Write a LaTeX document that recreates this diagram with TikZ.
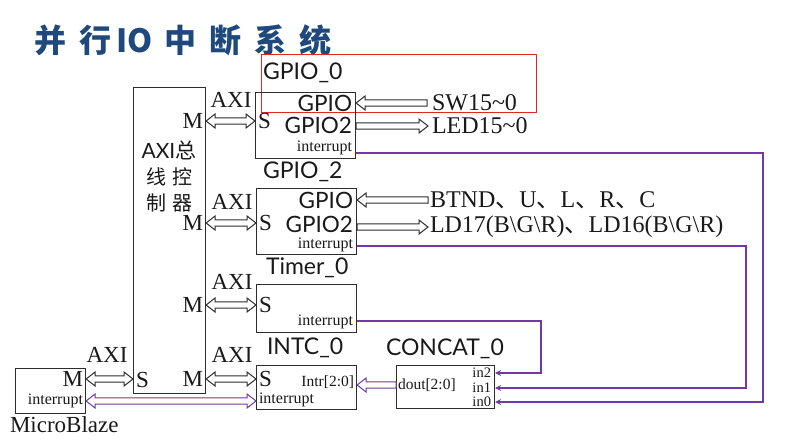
\documentclass[tikz,border=0pt]{standalone}
\usepackage{fontspec}
\setmainfont{Liberation Serif}
\setsansfont{Lato}
\newfontfamily\cjk{Noto Sans CJK SC}
\usetikzlibrary{arrows.meta,calc}
\definecolor{pur}{RGB}{112,56,168}
\definecolor{ttl}{RGB}{31,73,125}
\definecolor{ln}{RGB}{45,45,45}
\definecolor{hl}{RGB}{220,40,40}
\newcommand\fz[1]{\fontsize{#1}{#1}\selectfont}
% hollow bus arrows (horizontal): #1 style, #2 left point, #3 right point
\newcommand\busBoth[3]{\draw[#1] let \p1=#2, \p2=#3 in
  (\x1,\y1) -- ({\x1+9pt},{\y1+7pt}) -- ({\x1+9pt},{\y1+3.2pt}) -- ({\x2-9pt},{\y1+3.2pt})
  -- ({\x2-9pt},{\y1+7pt}) -- (\x2,\y1) -- ({\x2-9pt},{\y1-7pt}) -- ({\x2-9pt},{\y1-3.2pt})
  -- ({\x1+9pt},{\y1-3.2pt}) -- ({\x1+9pt},{\y1-7pt}) -- cycle;}
\newcommand\busRight[3]{\draw[#1] let \p1=#2, \p2=#3 in
  (\x1,{\y1+3.2pt}) -- ({\x2-9pt},{\y1+3.2pt}) -- ({\x2-9pt},{\y1+7pt}) -- (\x2,\y1)
  -- ({\x2-9pt},{\y1-7pt}) -- ({\x2-9pt},{\y1-3.2pt}) -- (\x1,{\y1-3.2pt}) -- cycle;}
\newcommand\busLeft[3]{\draw[#1] let \p1=#2, \p2=#3 in
  (\x2,{\y1+3.2pt}) -- ({\x1+9pt},{\y1+3.2pt}) -- ({\x1+9pt},{\y1+7pt}) -- (\x1,\y1)
  -- ({\x1+9pt},{\y1-7pt}) -- ({\x1+9pt},{\y1-3.2pt}) -- (\x2,{\y1-3.2pt}) -- cycle;}
\tikzset{
  box/.style={draw=ln, line width=1.1pt, inner sep=0pt, anchor=north west},
  t/.style={inner sep=0pt, outer sep=0pt, text=black!90},
  ser/.style={t, font=\fz{23}},
  ext/.style={t, font=\fz{24}},
  sml/.style={t, font=\fz{16}},
  prt/.style={t, font=\fz{15.5}},
  pin/.style={t, font=\fz{14.5}},
  lab/.style={t, font=\sffamily\fz{23}},
  gp/.style={t, font=\sffamily\fz{22.5}},
  bus/.style={draw=ln, line width=1pt, line join=miter, fill=white},
  pbus/.style={draw=pur, line width=1pt, line join=miter, fill=white},
  irq/.style={draw=pur, line width=1.4pt, -{Stealth[length=6pt,width=6pt]}},
}
\begin{document}
\begin{tikzpicture}[x=1pt,y=-1pt]
\useasboundingbox (0,0) rectangle (808,439);
% title
\node[anchor=west, inner sep=0pt, text=ttl, font=\cjk\bfseries\fz{32}] (title) at (34,40)
  {并\hspace{13pt}行\hspace{5pt}IO\hspace{12pt}中\hspace{13pt}断\hspace{13pt}系\hspace{13pt}统};
% highlight
\node[draw=hl, line width=1.4pt, minimum width=275, minimum height=58, inner sep=0pt, anchor=north west] (hlbox) at (261,54) {};
% AXI controller
\node[box, minimum width=72, minimum height=306] (axi) at (133,87) {};
\node[t, font=\fz{21}] (axiA) at (169,150) {{\sffamily AXI}{\cjk 总}};
\node[t, font=\cjk\fz{20}] (axiB) at (169,177) {线\hspace{6pt}控};
\node[t, font=\cjk\fz{20}] (axiC) at (169,203) {制\hspace{6pt}器};
\node[ser, anchor=east] (m0) at (203,121) {M};
\node[ser, anchor=east] (m1) at (203,223) {M};
\node[ser, anchor=east] (m2) at (203,305) {M};
\node[ser, anchor=east] (m3) at (203,379) {M};
\node[ser, anchor=west] (sL) at (136,380) {S};
% AXI labels
\node[ser] (ax0) at (231,100) {AXI};
\node[ser] (ax1) at (232,202) {AXI};
\node[ser] (ax2) at (232,282) {AXI};
\node[ser] (ax3) at (232,355) {AXI};
\node[ser] (ax4) at (107,355) {AXI};
% GPIO_0
\node[box, minimum width=100, minimum height=66] (g0) at (255,92) {};
\node[lab, anchor=west] (g0n) at (263,73) {GPIO\_0};
\node[gp, anchor=east] (g0a) at (352,103) {GPIO};
\node[gp, anchor=east] (g0b) at (352,125) {GPIO2};
\node[ser, anchor=west] (g0s) at (258,121) {S};
\node[sml, anchor=east] (g0i) at (352,148) {interrupt};
\node[ext, anchor=west] (sw) at (432,103) {SW15\textasciitilde0};
\node[ext, anchor=west] (led) at (432,126) {LED15\textasciitilde0};
% GPIO_2
\node[box, minimum width=100, minimum height=66] (g2) at (256,188) {};
\node[lab, anchor=west] (g2n) at (263,172) {GPIO\_2};
\node[gp, anchor=east] (g2a) at (353,200) {GPIO};
\node[gp, anchor=east] (g2b) at (353,224) {GPIO2};
\node[ser, anchor=west] (g2s) at (259,223) {S};
\node[sml, anchor=east] (g2i) at (353,245) {interrupt};
\node[ext, anchor=west] (btn) at (430,200) {BTND{\cjk 、}U{\cjk 、}L{\cjk 、}R{\cjk 、}C};
\node[ext, anchor=west] (ld) at (430,227) {LD17(B\textbackslash G\textbackslash R){\cjk 、}LD16(B\textbackslash G\textbackslash R)};
% Timer_0
\node[box, minimum width=100, minimum height=48] (tm) at (256,284) {};
\node[lab, anchor=west] (tmn) at (266,268) {Timer\_0};
\node[ser, anchor=west] (tms) at (259,305) {S};
\node[sml, anchor=east] (tmi) at (353,322) {interrupt};
% INTC_0
\node[box, minimum width=100, minimum height=44] (ic) at (256,365) {};
\node[lab, anchor=west] (icn) at (267,348) {INTC\_0};
\node[ser, anchor=west] (ics) at (259,379) {S};
\node[sml, anchor=west] (ici) at (259,400) {interrupt};
\node[prt, anchor=east] (icr) at (354,382) {Intr[2:0]};
% CONCAT_0
\node[box, minimum width=98, minimum height=43] (cc) at (396,365) {};
\node[lab, anchor=west] (ccn) at (386,349) {CONCAT\_0};
\node[prt, anchor=west] (dout) at (398,385) {dout[2:0]};
\node[pin, anchor=east] (i2) at (491,373) {in2};
\node[pin, anchor=east] (i1) at (491,388) {in1};
\node[pin, anchor=east] (i0) at (491,402) {in0};
% MicroBlaze
\node[box, minimum width=70, minimum height=45] (mb) at (15,368) {};
\node[ser, anchor=east] (mbm) at (83,379) {M};
\node[sml, anchor=east] (mbi) at (83,401) {interrupt};
\node[ser, anchor=west] (mbn) at (10,425) {MicroBlaze};
% buses
\busBoth{bus}{(axi.east |- m0)}{(g0.west |- m0)}
\busBoth{bus}{(axi.east |- m1)}{(g2.west |- m1)}
\busBoth{bus}{(axi.east |- m2)}{(tm.west |- m2)}
\busBoth{bus}{(axi.east |- m3)}{(ic.west |- m3)}
\busBoth{bus}{(mb.east |- mbm)}{(axi.west |- mbm)}
\busBoth{pbus}{(mb.east |- mbi)}{(ic.west |- mbi)}
\busLeft{pbus}{(ic.east |- dout)}{(cc.west |- dout)}
\busLeft{bus}{(g0.east |- sw.west)}{([xshift=-5pt]sw.west)}
\busRight{bus}{(g0.east |- led.west)}{([xshift=-4pt]led.west)}
\busLeft{bus}{(g2.east |- btn.west)}{([xshift=-2pt]btn.west)}
\busRight{bus}{(g2.east |- ld.west)}{([xshift=-2pt]ld.west)}
% interrupt lines
\coordinate (j0) at (763,153);
\coordinate (j1) at (746,246);
\coordinate (j2) at (541,321);
\draw[irq] (g0.east |- j0) -- (j0) |- (cc.east |- i0);
\draw[irq] (g2.east |- j1) -- (j1) |- (cc.east |- i1);
\draw[irq] (tm.east |- j2) -- (j2) |- (cc.east |- i2);
\end{tikzpicture}
\end{document}
